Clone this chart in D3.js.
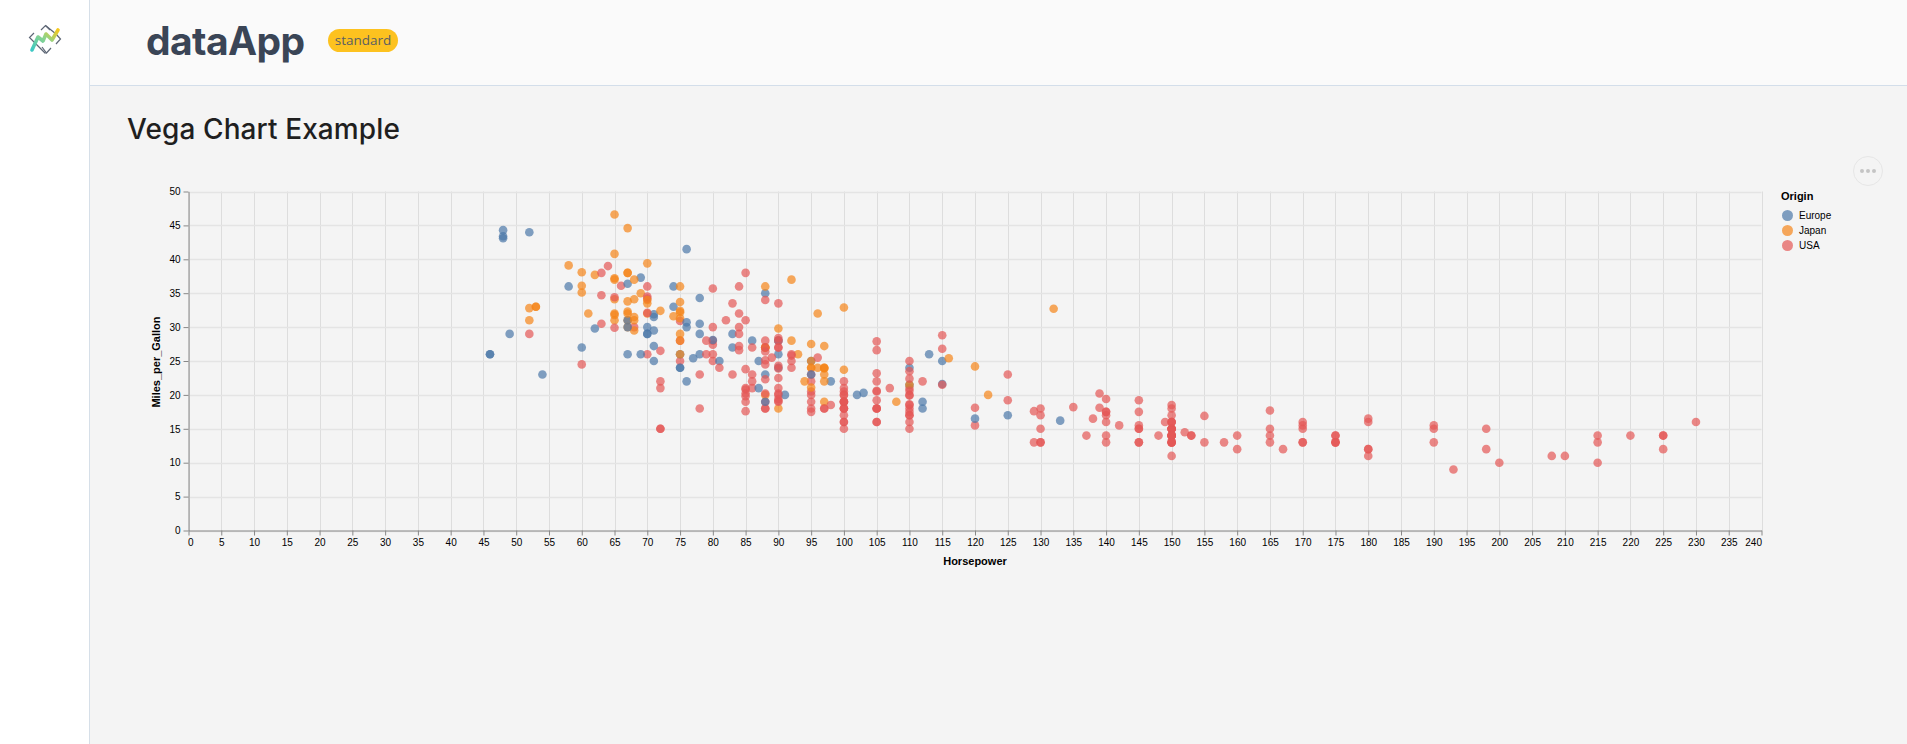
<!DOCTYPE html>
<html><head><meta charset="utf-8">
<script src="https://cdn.jsdelivr.net/npm/d3@7"></script>
<style>
html,body{margin:0;padding:0;width:1907px;height:744px;overflow:hidden;background:#f4f4f4;font-family:"Liberation Sans",Arial,sans-serif}
#side{position:absolute;left:0;top:0;width:89px;height:744px;background:#fff;border-right:1px solid #d6dfe8}
#head{position:absolute;left:90px;top:0;right:0;height:85px;background:#fafafa;border-bottom:1px solid #d3deea}
#brand{position:absolute;left:146px;top:15px;font:700 39px/52px Inter,"Noto Sans",sans-serif;letter-spacing:-.6px;color:#3a4556}
#badge{position:absolute;left:328px;top:29px;width:70px;height:23px;border-radius:12px;background:#fdc21f;color:#5a5f63;font:400 13.5px/23px "Open Sans",sans-serif;text-align:center}
#title{position:absolute;left:127px;top:109px;font:500 28px/40px Inter,"Noto Sans",sans-serif;color:#1f1f1f;letter-spacing:.1px}
#logo{position:absolute;left:26px;top:22px}
#chart{position:absolute;left:0;top:0}
</style></head><body>
<div id="side"></div><div id="head"></div>
<div id="brand">dataApp</div><div id="badge">standard</div>
<div id="title">Vega Chart Example</div>
<svg id="logo" width="38" height="38" viewBox="0 0 38 38">
<defs><linearGradient id="lg" x1="0" y1="1" x2="1" y2="0"><stop offset="0" stop-color="#3cc8c4"/><stop offset=".55" stop-color="#8fd48a"/><stop offset="1" stop-color="#f5c81e"/></linearGradient></defs>
<g fill="none" stroke="#5d6675" stroke-width="1.2">
<path d="M8 11 L3.5 15.5 L8 20"/><path d="M15 27 L19.5 33 L24 28" transform="translate(1,-2)"/><path d="M8 20 L19.5 31.5"/>
<path d="M15 8 L19.5 3.5 L24 8"/><path d="M30 12 L34.5 17 L30 22"/><path d="M19.5 3.5 L30 12"/>
</g>
<path d="M6 28 L12 15 L17 19 L20 12 L26 18 L32 8" fill="none" stroke="url(#lg)" stroke-width="3.6" stroke-linecap="round" stroke-linejoin="round"/>
</svg>
<svg id="chart" width="1907" height="744"></svg>
<script>
const horsepower=[
130,165,150,150,140,198,220,215,225,190,
170,160,150,225,95,95,97,85,88,46,
87,90,95,113,90,215,200,210,193,
88,90,95,100,105,100,88,100,165,175,
153,150,180,170,175,110,72,100,88,86,
90,70,76,65,69,60,70,95,80,54,
90,86,165,175,150,153,150,208,155,160,
190,97,150,130,140,150,112,76,87,69,
86,92,97,80,88,
175,150,145,137,150,198,150,158,150,215,
225,175,105,100,100,88,95,46,150,167,
170,180,100,88,72,94,90,85,107,90,
145,230,49,75,91,112,150,110,122,180,
95,100,100,100,67,80,65,75,100,110,
105,140,150,150,140,150,83,67,78,52,
61,75,75,75,97,93,67,
95,105,72,72,170,145,150,148,110,105,
110,95,110,110,129,75,83,100,78,96,
71,97,97,70,90,95,88,98,115,53,
86,81,92,79,83,140,150,120,152,100,
105,81,90,52,60,70,53,100,78,110,
95,71,70,75,72,102,150,88,108,120,
180,145,130,150,
68,80,58,96,70,145,110,145,130,110,
105,100,98,180,170,190,149,78,88,75,
89,63,83,67,78,97,110,110,
48,66,52,70,60,110,140,139,105,95,
85,88,100,90,105,85,110,120,145,165,
139,140,68,95,97,75,95,105,85,97,
103,125,115,133,71,68,
115,85,88,90,110,130,129,138,135,155,
142,125,150,71,65,80,80,77,125,71,
90,70,70,65,69,90,115,115,90,
76,60,70,65,90,88,90,90,78,90,
75,92,75,65,105,65,48,48,67,67,
67,67,62,132,100,88,72,
84,84,92,110,84,58,64,60,67,65,
62,68,63,65,65,74,75,75,100,74,
80,76,116,120,110,105,88,85,88,88,
88,85,84,90,92,74,68,68,63,70,
88,75,70,67,67,67,110,85,92,112,
96,84,90,86,52,84,79,82];
const milesPerGallon=[
18,15,18,16,17,15,14,14,14,15,
15,14,15,14,24,22,18,21,27,26,
25,24,25,26,21,10,10,11,9,
27,28,25,19,16,17,19,18,14,14,
14,14,12,13,13,18,22,19,18,23,
28,30,30,31,35,27,26,24,25,23,
20,21,13,14,15,14,17,11,13,12,
13,19,15,13,13,14,18,22,21,26,
22,28,23,28,27,
13,14,13,14,15,12,13,13,14,13,
12,13,18,16,18,18,23,26,11,12,
13,12,18,20,21,22,18,19,21,26,
15,16,29,24,20,19,15,24,20,11,
20,21,19,15,31,26,32,25,16,16,
18,16,13,14,14,14,29,26,26,31,
32,28,24,26,24,26,31,
19,18,15,15,16,15,16,14,17,16,
15,18,21,20,13,29,23,20,23,24,
25,24,18,29,19,23,23,22,25,33,
28,25,25,26,27,17.5,16,15.5,14.5,22,
22,24,22.5,29,24.5,29,33,20,18,18.5,
17.5,29.5,32,28,26.5,20,13,19,19,16.5,
16.5,13,13,13,
31.5,30,36,25.5,33.5,17.5,17,15.5,15,17.5,
20.5,19,18.5,16,15.5,15.5,16,29,24.5,26,
25.5,30.5,33.5,30,30.5,22,21.5,21.5,
43.1,36.1,32.8,39.4,36.1,19.9,19.4,20.2,19.2,20.5,
20.2,25.1,20.5,19.4,20.6,20.8,18.6,18.1,19.2,17.7,
18.1,17.5,30,27.5,27.2,30.9,21.1,23.2,23.8,23.9,
20.3,17,21.6,16.2,31.5,29.5,
21.5,19.8,22.3,20.2,20.6,17,17.6,16.5,18.2,16.9,
15.5,19.2,18.5,31.9,34.1,35.7,27.4,25.4,23,27.2,
23.9,34.2,34.5,31.8,37.3,28.4,28.8,26.8,33.5,
41.5,38.1,32.1,37.2,28,26.4,24.3,19.1,34.3,29.8,
31.3,37,32.2,46.6,27.9,40.8,44.3,43.4,36.4,30,
44.6,33.8,29.8,32.7,23.7,35,32.4,
27.2,26.6,25.8,23.5,30,39.1,39,35.1,32.3,37,
37.7,34.1,34.7,34.4,29.9,33,33.7,32.4,32.9,31.6,
28.1,30.7,25.4,24.2,22.4,26.6,20.2,17.6,28,27,
34,31,29,27,24,36,37,31,38,36,
36,36,34,38,32,38,25,38,26,22,
32,36,27,27,44,32,28,31];
const origin=[
"U","U","U","U","U","U","U","U","U","U",
"U","U","U","U","J","U","U","U","J","E",
"E","E","E","E","U","U","U","U","U",
"J","U","J","U","U","U","U","U","U","U",
"U","U","U","U","U","U","U","U","U","U",
"E","E","E","J","J","E","U","J","U","E",
"U","U","U","U","U","U","U","U","U","U",
"U","J","U","U","U","U","E","E","E","E",
"U","J","J","U","J",
"U","U","U","U","U","U","U","U","U","U",
"U","U","U","U","U","U","U","E","U","U",
"U","U","U","J","U","J","J","U","U","E",
"U","U","E","E","E","E","U","E","J","U",
"U","U","U","U","J","U","J","U","U","U",
"U","U","U","U","U","U","E","E","E","J",
"J","U","E","E","J","J","E",
"U","U","U","U","U","U","U","U","U","U",
"U","U","U","U","U","J","U","U","U","J",
"E","J","U","E","U","E","E","E","E","J",
"E","E","U","U","E","U","U","U","U","U",
"U","U","U","U","U","E","J","U","U","U",
"U","E","J","J","U","E","U","E","J","E",
"U","U","U","U",
"J","U","E","U","J","U","U","U","U","U",
"U","U","U","U","U","U","U","E","U","J",
"U","U","U","J","E","J","E","J",
"E","U","J","J","J","U","U","U","U","U",
"U","U","U","U","U","U","U","U","U","U",
"U","U","U","J","J","U","J","U","U","J",
"E","E","E","E","E","J",
"U","U","U","U","U","U","U","U","U","U",
"U","U","U","E","J","U","U","E","U","E",
"U","U","U","J","E","U","U","U","U",
"E","J","U","J","U","U","U","U","E","J",
"J","J","J","J","U","J","E","E","E","E",
"J","J","E","J","J","E","J",
"U","U","U","U","U","J","U","J","J","J",
"J","J","U","U","U","E","J","J","J","J",
"E","E","J","J","U","U","U","U","U","U",
"U","U","U","U","U","E","J","J","U","U",
"J","J","J","J","J","J","U","U","U","U",
"J","U","U","U","E","U","U","U"];
const originNames={E:"Europe",J:"Japan",U:"USA"};
const legendOrder=["Europe","Japan","USA"];
const palette=["#4c78a8","#f58518","#e45756"];
const xTicks=d3.range(0,241,5);
const yTicks=d3.range(0,51,5);

const svg=d3.select("#chart");
const x=d3.scaleLinear().domain([0,240]).range([188.5,1761.5]);
const y=d3.scaleLinear().domain([0,50]).range([530.5,191.5]);
const color=d3.scaleOrdinal().domain(legendOrder).range(palette);
const font='"Liberation Sans",Arial,sans-serif';

const grid=svg.append("g");
grid.selectAll("line.v").data(xTicks).join("line").attr("class","v")
  .attr("x1",d=>Math.round(x(d))+.5).attr("x2",d=>Math.round(x(d))+.5).attr("y1",y(50)).attr("y2",y(0)).attr("stroke","#ddd");
grid.selectAll("line.h").data(yTicks).join("line").attr("class","h")
  .attr("y1",d=>Math.round(y(d))+.5).attr("y2",d=>Math.round(y(d))+.5).attr("x1",x(0)).attr("x2",x(240)).attr("stroke","#e4e4e4").attr("stroke-width",1.4);

const xa=svg.append("g").attr("transform",`translate(0,${y(0)})`).call(d3.axisBottom(x).tickValues(xTicks).tickSize(5).tickPadding(3).tickSizeOuter(0));
const ya=svg.append("g").attr("transform",`translate(${x(0)},0)`).call(d3.axisLeft(y).tickValues(yTicks).tickSize(5).tickPadding(3).tickSizeOuter(0));
[xa,ya].forEach(a=>{a.selectAll("path").attr("stroke","#888");a.selectAll("line").attr("stroke","#888");
  a.selectAll("text").attr("fill","#000").style("font","10px "+font);});
xa.selectAll(".tick text").filter(d=>d===0).attr("text-anchor","start").attr("dx",-1);
xa.selectAll(".tick text").filter(d=>d===240).attr("text-anchor","end").attr("dx",0);

svg.append("g").selectAll("circle").data(horsepower.map((h,i)=>({h,m:milesPerGallon[i],o:originNames[origin[i]]})))
  .join("circle").attr("cx",d=>x(d.h)).attr("cy",d=>y(d.m)).attr("r",4.3)
  .attr("fill",d=>color(d.o)).attr("fill-opacity",.7);

svg.append("text").attr("x",975).attr("y",565).attr("text-anchor","middle").style("font","bold 11px "+font).text("Horsepower");
svg.append("text").attr("transform","translate(160,362) rotate(-90)").attr("text-anchor","middle").style("font","bold 11px "+font).text("Miles_per_Gallon");

const lg=svg.append("g");
lg.append("text").attr("x",1781).attr("y",200).style("font","bold 11px "+font).text("Origin");
const item=lg.selectAll("g").data(legendOrder).join("g").attr("transform",(d,i)=>`translate(1787.5,${215.5+i*15})`);
item.append("circle").attr("r",5.5).attr("fill",d=>color(d)).attr("fill-opacity",.7);
item.append("text").attr("x",11.5).attr("y",3.5).style("font","10px "+font).text(d=>d);

const menu=svg.append("g").attr("transform","translate(1868,171)");
menu.append("circle").attr("r",14.5).attr("fill","#f4f4f4").attr("stroke","#e6e6e6").attr("stroke-width",1);
menu.selectAll("circle.d").data([-6,0,6]).join("circle").attr("class","d").attr("cx",d=>d).attr("r",2).attr("fill","#c4c4c4");
</script></body></html>
